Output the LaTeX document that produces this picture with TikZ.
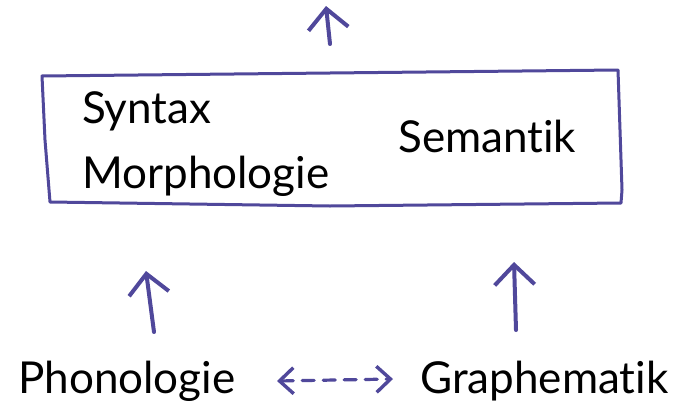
\documentclass[tikz,border=0pt]{standalone}
\usepackage{fontspec}
\setmainfont{Lato}[Ligatures={NoCommon}]
\usetikzlibrary{arrows.meta}
\definecolor{ink}{RGB}{80,72,155}
\begin{document}
\begin{tikzpicture}[x=1pt,y=-1pt,
  pen/.style={draw=ink, line width=3pt, line cap=round, line join=round},
  uparrow/.style={pen, line width=4pt, -{Straight Barb[length=20pt,width=40pt,line width=4pt]}},
  lbl/.style={font=\fontsize{44}{46}\selectfont, inner sep=0pt, anchor=base west, text=black}]
\useasboundingbox (0,0) rectangle (679,407);
\fill[white] (0,0) rectangle (679,407);
% box
\draw[pen] (42,76) -- (330,73) -- (618,70) -- (622,190) -- (621,203) -- (330,206) -- (50,202) -- (45,140) -- cycle;
\node[lbl] (syn) at (82,123) {Syntax};
\node[lbl] (mor) at (82,188) {Morphologie};
\node[lbl] (sem) at (398,152) {Semantik};
\node[lbl] (pho) at (18,393) {Phonologie};
\node[lbl] (gra) at (420,393) {Graphematik};
% arrows
\coordinate (t0) at (330,44);
\coordinate (t1) at (326,6);
\draw[uparrow] (t0) -- (t1);
\coordinate (l0) at (154,332);
\coordinate (l1) at (146,271);
\draw[uparrow] (l0) -- (l1);
\coordinate (r0) at (516,330);
\coordinate (r1) at (514,262);
\draw[uparrow] (r0) -- (r1);
\coordinate (d0) at (277,381);
\coordinate (d1) at (393,379);
\draw[pen, line width=3.2pt, dash pattern=on 12pt off 9pt, {Straight Barb[length=14pt,width=26pt,line width=3.4pt]}-{Straight Barb[length=14pt,width=26pt,line width=3.4pt]}] (d0) -- (d1);
\end{tikzpicture}
\end{document}
